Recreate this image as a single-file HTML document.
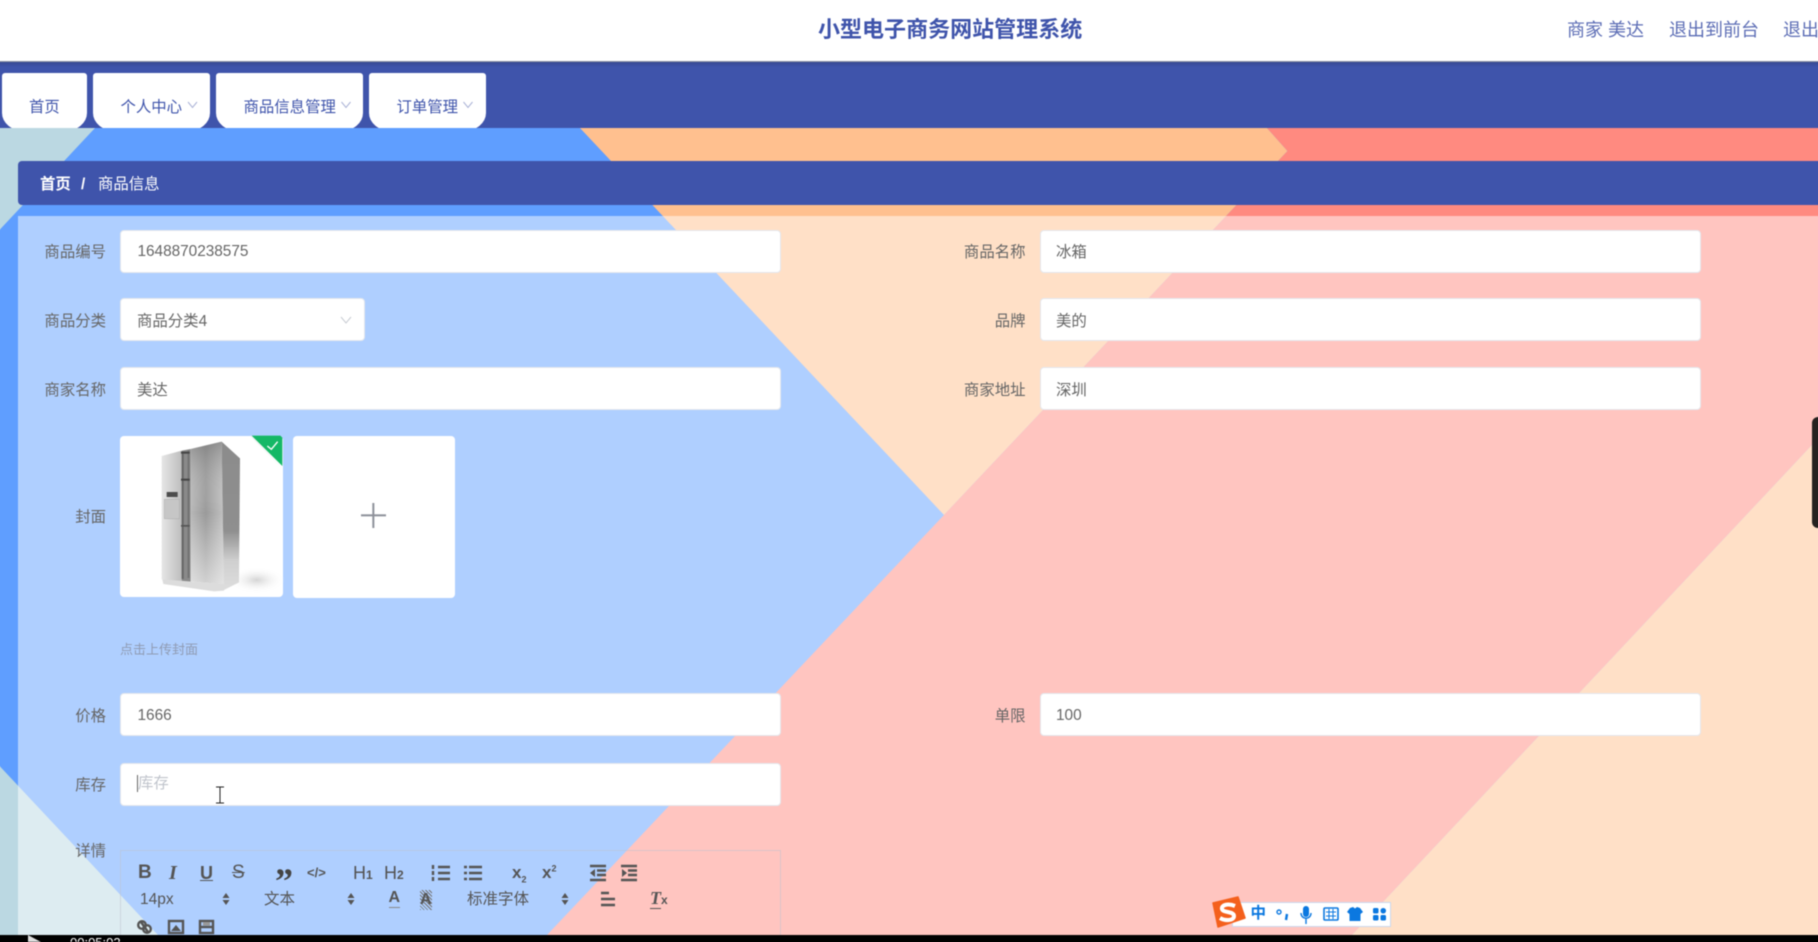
<!DOCTYPE html>
<html lang="zh-CN">
<head>
<meta charset="utf-8">
<title>小型电子商务网站管理系统</title>
<style>
*{box-sizing:border-box}
html,body{margin:0;padding:0;width:1818px;height:942px;overflow:hidden;background:#fff}
body{position:relative;font-family:"Liberation Sans","Noto Sans CJK SC",sans-serif}
#w{position:absolute;left:0;top:0;width:1818px;height:942px;filter:blur(.45px)}
.a{position:absolute;white-space:nowrap}
.hdr{left:-8px;top:-8px;width:1834px;height:70px;background:#fff;border-bottom:1px solid #8f93a3}
.title{left:818px;top:13px;font-size:22px;line-height:34px;font-weight:700;color:#3f54ab;letter-spacing:.02px}
.hr{top:15px;font-size:18px;line-height:30px;color:#5c6db5}
.nav{left:-8px;top:62px;width:1834px;height:66px;background:linear-gradient(#384a92 0,#3f54ab 5px)}
.tabw{top:73px;height:55px;overflow:hidden}
.tab{width:100%;height:58px;background:#fff;border-radius:3px 3px 22px 22px/3px 3px 18px 18px}
.nt{top:95px;font-size:15.4px;line-height:26px;color:#3f54ab}
.bc{left:18px;top:161px;width:1808px;height:44px;background:#3f54ab;border-radius:4px 0 0 4px}
.bt{top:173px;font-size:15.4px;line-height:24px;color:#fff}
.lb{font-size:15.4px;line-height:24px;color:#666;text-align:right}
.l1{left:0;width:106px}
.l2{left:900px;width:125.5px}
.in{background:#fff;border:1px solid #e4e7ed;border-radius:4px;height:43px}
.c1{left:120px;width:661px}
.c2{left:1039.5px;width:661px}
.tx{font-size:15.4px;line-height:24px;color:#666}
.bar{left:-8px;top:935px;width:1834px;height:15px;background:#000}
.tb{font-size:15.5px;line-height:20px;color:#555}
</style>
</head>
<body>
<div id="w">
<svg class="a" style="left:-8px;top:128px" width="1834" height="807" viewBox="-8 128 1834 807">
<rect x="-8" y="128" width="1834" height="807" fill="#5f9eff"/>
<polygon points="-8,128 95,128 -8,238" fill="#bbd8e2"/>
<polygon points="580,128 1267,128 1287.5,151 944,515" fill="#ffc08f"/>
<polygon points="1267,128 1826,128 1826,430 1352,935 547,935 944,515 1287.5,151" fill="#ff8a80"/>
<polygon points="1826,430 1826,935 1352,935" fill="#ffc08f"/>
<polygon points="-8,758 158,935 -8,935" fill="#bbd8e2"/>
<rect x="18" y="216" width="1808" height="719" fill="#fff" fill-opacity=".5"/>
</svg>

<div class="a hdr"></div>
<div class="a title">小型电子商务网站管理系统</div>
<div class="a hr" style="left:1567px">商家 美达</div>
<div class="a hr" style="left:1669px">退出到前台</div>
<div class="a hr" style="left:1783px">退出</div>

<div class="a nav"></div>
<div class="a tabw" style="left:2px;width:85px"><div class="tab"></div></div>
<div class="a tabw" style="left:93px;width:117px"><div class="tab"></div></div>
<div class="a tabw" style="left:216px;width:147px"><div class="tab"></div></div>
<div class="a tabw" style="left:369px;width:117px"><div class="tab"></div></div>
<div class="a nt" style="left:29px">首页</div>
<div class="a nt" style="left:120.5px">个人中心</div>
<div class="a nt" style="left:243.5px">商品信息管理</div>
<div class="a nt" style="left:396.5px">订单管理</div>
<svg class="a" style="left:0;top:100px" width="500" height="12">
<g fill="none" stroke="#aab2d6" stroke-width="1">
<polyline points="188,2 192.5,7.5 197,2"/>
<polyline points="341.5,2 346,7.5 350.5,2"/>
<polyline points="463.5,2 468,7.5 472.5,2"/>
</g>
</svg>

<div class="a bc"></div>
<div class="a bt" style="left:40px;font-weight:700">首页</div>
<div class="a bt" style="left:81px;font-weight:700">/</div>
<div class="a bt" style="left:98px">商品信息</div>

<div class="a lb l1" style="top:240.5px">商品编号</div>
<div class="a in c1" style="top:229.5px"></div>
<div class="a tx" style="left:137.5px;top:240px;letter-spacing:-.03px">1648870238575</div>
<div class="a lb l2" style="top:240.5px">商品名称</div>
<div class="a in c2" style="top:229.5px"></div>
<div class="a tx" style="left:1056px;top:241px">冰箱</div>

<div class="a lb l1" style="top:309.5px">商品分类</div>
<div class="a in" style="left:120px;top:298px;width:245px"></div>
<div class="a tx" style="left:137px;top:310px">商品分类4</div>
<svg class="a" style="left:339px;top:315px" width="14" height="12"><polyline points="2,2 7,8 12,2" fill="none" stroke="#c8ccd3" stroke-width="1"/></svg>
<div class="a lb l2" style="top:309.5px">品牌</div>
<div class="a in c2" style="top:298px"></div>
<div class="a tx" style="left:1056px;top:310px">美的</div>

<div class="a lb l1" style="top:378.5px">商家名称</div>
<div class="a in c1" style="top:367px"></div>
<div class="a tx" style="left:137px;top:379px">美达</div>
<div class="a lb l2" style="top:378.5px">商家地址</div>
<div class="a in c2" style="top:367px"></div>
<div class="a tx" style="left:1056px;top:379px">深圳</div>

<div class="a lb l1" style="top:506px">封面</div>
<div class="a" style="left:120px;top:435.5px;width:163px;height:161px;background:#fff;border-radius:4px"></div>
<div class="a" style="left:292.5px;top:435.5px;width:162.5px;height:162.5px;background:#fff;border-radius:4px"></div>

<svg class="a" style="left:100px;top:420px" width="380" height="190" viewBox="0 0 1140 570">
<defs>
<linearGradient id="g1" x1="0" x2="1" y1="0" y2="0"><stop offset="0" stop-color="#e6e6e6"/><stop offset="1" stop-color="#bdbdbd"/></linearGradient>
<linearGradient id="g2" x1="0" x2="1" y1="0" y2="0"><stop offset="0" stop-color="#b8b8b8"/><stop offset=".45" stop-color="#9a9a9a"/><stop offset="1" stop-color="#c2c2c2"/></linearGradient>
<linearGradient id="g2v" x1="0" x2="0" y1="0" y2="1"><stop offset="0" stop-color="#666" stop-opacity=".45"/><stop offset=".5" stop-color="#fff" stop-opacity="0"/><stop offset="1" stop-color="#fff" stop-opacity=".55"/></linearGradient>
<linearGradient id="g3" x1="0" x2="0" y1="0" y2="1"><stop offset="0" stop-color="#8c8c8c"/><stop offset=".6" stop-color="#8f8f8f"/><stop offset=".8" stop-color="#cfcfcf"/><stop offset="1" stop-color="#dedede"/></linearGradient>
<radialGradient id="sh"><stop offset="0" stop-color="#d4d4d4"/><stop offset="1" stop-color="#fff" stop-opacity="0"/></radialGradient>
<linearGradient id="fade" x1="0" x2="1" y1="0" y2="1"><stop offset="0" stop-color="#e8e8e8"/><stop offset="1" stop-color="#fff"/></linearGradient>
</defs>
<ellipse cx="470" cy="480" rx="85" ry="40" fill="url(#sh)"/>
<polygon points="450,47 500,47 547,138 547,150" fill="url(#fade)" opacity=".6"/>
<polygon points="185,108 245,92 245,488 185,478" fill="url(#g1)"/>
<polygon points="245,92 272,87 272,490 245,488" fill="#8a8a8a"/>
<polygon points="272,87 365,65 372,492 272,484" fill="url(#g2)"/>
<polygon points="272,87 365,65 372,492 272,484" fill="url(#g2v)"/>
<polygon points="365,65 420,115 417,487 372,510" fill="url(#g3)"/>
<polygon points="187,478 372,492 372,512 342,514 190,492" fill="#dcdcdc"/>
<rect x="245" y="95" width="6" height="382" fill="#666"/>
<rect x="263" y="92" width="5" height="382" fill="#707070"/>
<rect x="243" y="95" width="26" height="6" fill="#444"/>
<rect x="243" y="176" width="26" height="6" fill="#444"/>
<rect x="243" y="315" width="26" height="5" fill="#555"/>
<rect x="200" y="216" width="33" height="15" fill="#4c4c4c"/>
<rect x="193" y="238" width="45" height="58" fill="#c6c6c6" stroke="#9c9c9c"/>
<polygon points="455,47 541,47 547,53 547,138" fill="#14b866"/>
<polyline points="502,78 514,88 533,65" fill="none" stroke="#fff" stroke-width="4"/>
<rect x="783" y="283" width="75" height="6" fill="#8d9099"/>
<rect x="817" y="249" width="6" height="75" fill="#8d9099"/>
</svg>

<div class="a" style="left:120px;top:640px;font-size:13px;line-height:20px;color:#8f9bb3">点击上传封面</div>

<div class="a lb l1" style="top:704.5px">价格</div>
<div class="a in c1" style="top:693px"></div>
<div class="a tx" style="left:137.5px;top:704px">1666</div>
<div class="a lb l2" style="top:704.5px">单限</div>
<div class="a in c2" style="top:693px"></div>
<div class="a tx" style="left:1056px;top:704px">100</div>

<div class="a lb l1" style="top:773.5px">库存</div>
<div class="a in c1" style="top:762.5px"></div>
<div class="a tx" style="left:138px;top:772px;color:#c0c4cc">库存</div>
<div class="a" style="left:137px;top:775px;width:1px;height:17px;background:#666"></div>
<svg class="a" style="left:214px;top:786px" width="12" height="18"><path d="M2,1H10M6,1V17M2,17H10" fill="none" stroke="#222" stroke-width="1"/></svg>

<div class="a lb l1" style="top:840px">详情</div>
<div class="a" style="left:120px;top:850px;width:661px;height:90px;border:1px solid rgba(190,195,205,.55);border-bottom:none"></div>

<!-- toolbar row 1 -->
<div class="a tb" style="left:138px;top:863px;font-weight:700;font-size:19px">B</div>
<div class="a tb" style="left:169px;top:863px;font-weight:700;font-style:italic;font-family:'Liberation Serif',serif;font-size:20px">I</div>
<div class="a tb" style="left:200px;top:863px;font-size:18px;font-weight:700;text-decoration:underline">U</div>
<div class="a tb" style="left:232px;top:863px;font-size:19px;text-decoration:line-through">S</div>
<div class="a tb" style="left:275px;top:863px;font-weight:700;font-size:36px;line-height:36px;font-family:'Liberation Serif',serif;height:20px;color:#444">”</div>
<div class="a tb" style="left:307px;top:863px;font-size:13px;font-weight:700">&lt;/&gt;</div>
<div class="a tb" style="left:353px;top:863px;font-size:18px">H<span style="font-size:12px;font-weight:700">1</span></div>
<div class="a tb" style="left:384px;top:863px;font-size:18px">H<span style="font-size:12px;font-weight:700">2</span></div>
<div class="a tb" style="left:512px;top:863px;font-size:17px;font-weight:700">x<sub style="font-size:9px">2</sub></div>
<div class="a tb" style="left:542px;top:863px;font-size:17px;font-weight:700">x<sup style="font-size:9px;line-height:0">2</sup></div>
<svg class="a" style="left:0;top:860px" width="700" height="80" fill="none" stroke="#555" stroke-width="2.4">
<!-- ol -->
<path d="M438,7H450M438,13H450M438,19H450M433,5V9M433,11V15M433,17V21"/>
<!-- ul -->
<path d="M469,7H482M469,13H482M469,19H482M464,7H467M464,13H467M464,19H467"/>
<!-- outdent -->
<path d="M590,6H606M597,10.500H606M597,15H606M590,20H606"/><polygon points="595,9 595,17 590,13" fill="#555" stroke="none"/>
<!-- indent -->
<path d="M621,6H637M628,10.500H637M628,15H637M621,20H637"/><polygon points="622,9 622,17 627,13" fill="#555" stroke="none"/>
<!-- select arrows -->
<g fill="#555" stroke="none">
<polygon points="222.500,38 229.500,38 226,33"/><polygon points="222.500,40 229.500,40 226,45"/>
<polygon points="347.500,38 354.500,38 351,33"/><polygon points="347.500,40 354.500,40 351,45"/>
<polygon points="561.500,38 568.500,38 565,33"/><polygon points="561.500,40 568.500,40 565,45"/>
</g>
<!-- align -->
<path d="M601,33H609M601,39H615M601,45H615"/>
<!-- link -->
<circle cx="142" cy="65" r="3.800"/><circle cx="147" cy="69" r="3.800"/><path d="M141,62L148,72"/>
<!-- image -->
<rect x="169" y="61" width="14" height="12"/><polygon points="171,71 176,65 181,71" fill="#555" stroke="none"/>
<!-- film -->
<rect x="200" y="61" width="13" height="12"/><path d="M200,67H213"/><rect x="203" y="62" width="7" height="3.500" stroke="none" fill="#999"/>
</svg>
<div class="a tb" style="left:140px;top:890px">14px</div>
<div class="a tb" style="left:264px;top:890px">文本</div>
<div class="a tb" style="left:388.500px;top:889px;font-weight:700;font-size:16px;border-bottom:1.500px solid #888;line-height:18px">A</div>
<div class="a tb" style="left:420px;top:890px;font-weight:700;font-size:16px;background:repeating-linear-gradient(45deg,#777 0 1px,transparent 1px 2.500px);line-height:20px">A</div>
<div class="a tb" style="left:467px;top:890px">标准字体</div>
<div class="a tb" style="left:650px;top:888px;font-size:18px;font-weight:700;font-style:italic;font-family:'Liberation Serif',serif"><span style="border-bottom:1.500px solid #555">T</span><span style="font-size:12px;font-style:normal;font-family:'Liberation Sans',sans-serif">x</span></div>

<!-- Sogou bar -->
<div class="a" style="left:1232px;top:902px;width:159px;height:25px;background:#fff;border:1px solid #ccd9ee"></div>
<svg class="a" style="left:1210px;top:895px" width="36" height="34">
<polygon points="3,8 28,2 35,23 8,32" fill="#f4601c" stroke="#f4601c" stroke-width="1.500" stroke-linejoin="round"/>
<path d="M25,11C18,8 11,10 12,14C13,18 24,16 24,21C24,26 15,26 10,23" fill="none" stroke="#fff" stroke-width="4"/>
</svg>
<div class="a" style="left:1250.500px;top:904px;font-size:15.500px;line-height:20px;font-weight:700;color:#0b78e0">中</div>
<svg class="a" style="left:1270px;top:902px" width="122" height="25" fill="#0b78e0">
<circle cx="9" cy="10" r="2" fill="none" stroke="#0b78e0" stroke-width="1.400"/><path d="M17,12L16,18" stroke="#0b78e0" stroke-width="2.400" fill="none"/>
<rect x="33" y="4" width="6" height="11" rx="3"/><path d="M31,11C31,18 41,18 41,11M36,17V22" stroke="#0b78e0" stroke-width="1.400" fill="none"/>
<rect x="54" y="6" width="14" height="12" rx="1" fill="none" stroke="#0b78e0" stroke-width="1.600"/><path d="M56,10H66M56,14H66M59,7V17M63,7V17" stroke="#0b78e0" stroke-width="1"/>
<polygon points="80,6 83,5 85,6.500 87,5 90,6 93,10 90.500,12 90.500,19 79.500,19 79.500,12 77,10"/>
<rect x="103" y="6" width="5.500" height="5.500" rx="1.500"/><rect x="110.500" y="6" width="5.500" height="5.500" rx="2.700"/><rect x="103" y="13" width="5.500" height="5.500" rx="1.500"/><rect x="110.500" y="13" width="5.500" height="5.500" rx="1.500"/>
</svg>

<!-- right-edge dark shape -->
<div class="a" style="left:1812px;top:417px;width:14px;height:111px;background:#262220;border-radius:6px 0 0 6px"></div>

<!-- bottom player bar -->
<div class="a bar"></div>
<svg class="a" style="left:27px;top:934px" width="20" height="8"><polygon points="1,1 1,8 14,8" fill="#ddd"/></svg>
<div class="a" style="left:0;top:935px;width:200px;height:7px;overflow:hidden"><span class="a" style="left:70px;top:0;font-size:13px;line-height:15px;color:#fff">00:05:02</span></div>
</div>
</body>
</html>
